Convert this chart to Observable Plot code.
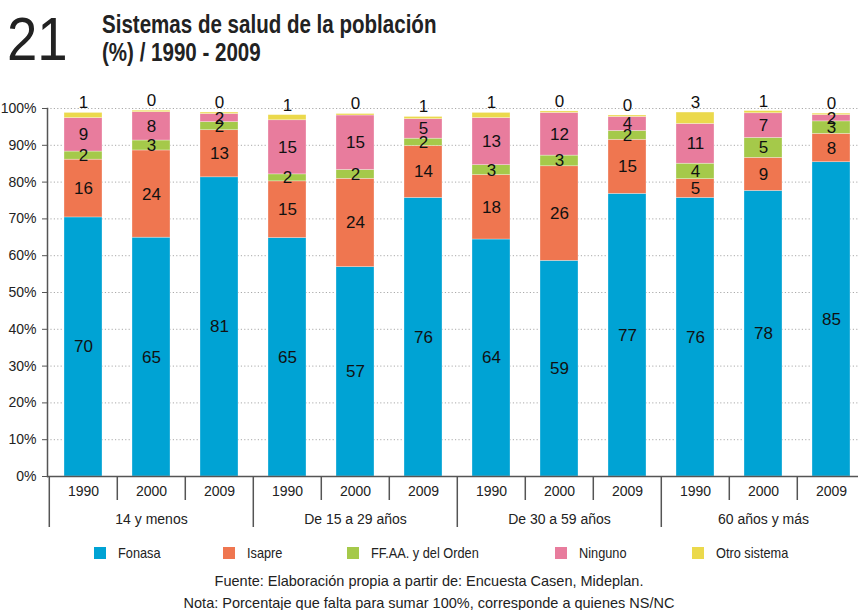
<!DOCTYPE html>
<html><head><meta charset="utf-8">
<script src="https://cdn.jsdelivr.net/npm/d3@7"></script>
<script src="https://cdn.jsdelivr.net/npm/@observablehq/plot@0.6"></script>
<style>
body{margin:0;background:#fff;font-family:"Liberation Sans",sans-serif;color:#222}
#wrap{position:relative;width:858px;height:610px;overflow:hidden;background:#fff}
#num{position:absolute;left:7px;top:8px;font-size:62px;line-height:62px;color:#222;transform:scaleX(0.88);transform-origin:left top}
#title{position:absolute;left:102px;top:10px;font-size:26px;font-weight:bold;line-height:28px;color:#222;transform:scaleX(0.79);transform-origin:left top;white-space:nowrap}
#chart{position:absolute;left:0;top:80px}
#legend{position:absolute;top:544px;left:0;width:858px;height:20px;font-size:14.5px;color:#222}
.item{position:absolute;top:0;display:flex;align-items:center;height:18px}
.sw{width:12px;height:12px;margin-right:12px}
.lt{display:inline-block;transform:scaleX(0.88);transform-origin:left center;white-space:nowrap}
#cap{position:absolute;top:570px;left:0;width:858px;text-align:center;font-size:14.5px;line-height:22px;color:#222}
</style>
</head><body>
<div id="wrap">
  <div id="num">21</div>
  <div id="title">Sistemas de salud de la población<br>(%) / 1990 - 2009</div>
  <div id="chart"></div>
  <div id="legend"></div>
  <div id="cap">Fuente: Elaboración propia a partir de: Encuesta Casen, Mideplan.<br>Nota: Porcentaje que falta para sumar 100%, corresponde a quienes NS/NC</div>
</div>
<script>
// ---- data ----
const groups = ["14 y menos", "De 15 a 29 años", "De 30 a 59 años", "60 años y más"];
const years = ["1990", "2000", "2009"];
const systems = ["Fonasa", "Isapre", "FF.AA. y del Orden", "Ninguno", "Otro sistema"];
const colors = ["#00a3d4", "#ef7650", "#a5c94a", "#e87c9d", "#ebd94c"];
// one value per bar, order: groups x years
const fonasa  = [70.4, 64.9, 81.3, 64.8, 56.9, 75.7, 64.4, 58.6, 76.8, 75.7, 77.6, 85.4];
const isapre  = [15.7, 23.7, 12.8, 15.4, 24.0, 14.1, 17.5, 25.7, 14.7,  5.1,  9.0,  7.7];
const ffaa    = [ 2.2,  2.7,  2.2,  1.9,  2.4,  2.0,  2.7,  2.9,  2.4,  4.2,  5.4,  3.4];
const ninguno = [ 9.1,  7.7,  2.2, 14.7, 14.8,  5.3, 12.8, 11.6,  3.8, 10.8,  6.7,  1.7];
const otro    = [ 1.4,  0.4,  0.4,  1.4,  0.4,  0.6,  1.4,  0.4,  0.4,  3.1,  0.6,  0.4];
const yTicks = [0, 10, 20, 30, 40, 50, 60, 70, 80, 90, 100];

// ---- table ----
const series = [fonasa, isapre, ffaa, ninguno, otro];
const keys = [];
groups.forEach(g => years.forEach(y => keys.push(g + "|" + y)));
const rows = [];
keys.forEach((k, i) => {
  let acc = 0;
  systems.forEach((s, j) => {
    const v = series[j][i];
    rows.push({key: k, system: s, value: v, y1: acc, y2: acc + v, label: String(Math.round(v))});
    acc += v;
  });
});
const yearKeys = keys.filter(k => !k.endsWith("|1990"));
const groupKeys = keys.filter(k => k.endsWith("|1990"));
const midKeys = groups.map(g => g + "|2000");

const W = 858, H = 460, ML = 47, XR = 868;
const step = (XR - ML) / keys.length;
const font = '"Liberation Sans",sans-serif';

const chart = Plot.plot({
  width: W, height: H,
  marginLeft: ML, marginRight: 0, marginTop: 28, marginBottom: 64,
  style: {fontFamily: font, fontSize: "14px", color: "#222", background: "#fff"},
  x: {domain: keys, range: [ML, XR], paddingInner: 0.44, paddingOuter: 0.22, axis: null, label: null},
  y: {domain: [0, 100], axis: null, label: null},
  color: {domain: systems, range: colors},
  marks: [
    Plot.ruleY(yTicks.filter(v => v > 0), {stroke: "#aaa", strokeDasharray: "1.2,2.2", strokeWidth: 1}),
    Plot.barY(rows, {x: "key", y1: "y1", y2: "y2", fill: "system", stroke: "#fff", strokeOpacity: 0.5, strokeWidth: 0.6}),
    Plot.text(rows.filter(d => d.system !== "Otro sistema"), {x: "key", y: d => (d.y1 + d.y2) / 2, text: "label", fontSize: 17, fill: "#111"}),
    Plot.text(rows.filter(d => d.system === "Otro sistema"), {x: "key", y: "y2", text: "label", fontSize: 17, fill: "#111", dy: -10}),
    Plot.frame({anchor: "left", stroke: "#555", strokeWidth: 1.5}),
    Plot.ruleY([0], {stroke: "#555", strokeWidth: 1.5}),
    Plot.axisY({ticks: yTicks, tickFormat: d => d + "%", tickSize: 5, tickPadding: 6, fontSize: 14, stroke: "#555", label: null}),
    Plot.axisX({ticks: keys, tickFormat: k => k.split("|")[1], tickSize: 0, tickPadding: 10, fontSize: 14, label: null}),
    Plot.axisX(yearKeys, {tickSize: 24, dx: -step / 2, tickFormat: () => "", stroke: "#555", strokeWidth: 1.5, label: null}),
    Plot.axisX(groupKeys, {tickSize: 51, dx: -step / 2, tickFormat: () => "", stroke: "#555", strokeWidth: 1.5, label: null}),
    Plot.text(midKeys, {x: d => d, text: d => d.split("|")[0], frameAnchor: "bottom", dy: 47, fontSize: 14})
  ]
});
document.getElementById("chart").appendChild(chart);

// legend
const legendX = [94, 223, 347, 555, 692];
const leg = document.getElementById("legend");
systems.forEach((s, i) => {
  const it = document.createElement("div");
  it.className = "item";
  it.style.left = legendX[i] + "px";
  it.innerHTML = `<span class="sw" style="background:${colors[i]}"></span><span class="lt">${s}</span>`;
  leg.appendChild(it);
});
</script>
</body></html>
